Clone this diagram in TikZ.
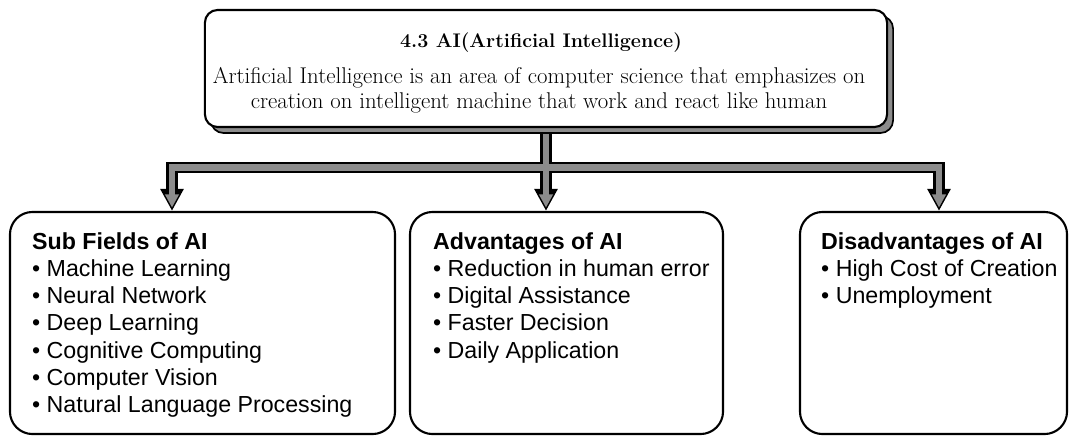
\documentclass[tikz,border=0pt]{standalone}
\usepackage{fontspec}
\setsansfont{Liberation Sans}
\usetikzlibrary{arrows.meta,shadows,calc}
\pgfdeclarelayer{pipes}
\pgfsetlayers{pipes,main}
\begin{document}
\begin{tikzpicture}[x=0.025cm,y=-0.025cm,
  box/.style={draw=black, line width=1.5pt, rounded corners=16pt, fill=white, inner sep=0pt},
  headbox/.style={draw=black, line width=1.5pt, rounded corners=9pt, fill=white, inner sep=0pt,
    copy shadow={shadow xshift=0.15cm, shadow yshift=-0.15cm, fill=black!45, draw=black, line width=1.2pt}},
  listtext/.style={anchor=north west, inner sep=0pt, align=left,
    font=\fontsize{16.5}{19.4}\selectfont\sffamily},
  pipeout/.style={draw=black, line width=8pt, line join=miter,
    -{Triangle[length=15.6pt, width=15.6pt]}},
  pipein/.style={draw=black!45, line width=4.8pt, line join=miter, shorten >=2.4pt,
    -{Triangle[length=9.4pt, width=9.4pt, color=black!45]}},
]
\useasboundingbox (0,0) rectangle (1072,437);

% heading box with its shadow
\node[headbox, minimum width=17.05cm, minimum height=2.925cm] (top) at (546,68.5) {};
\node[font=\fontsize{14}{17}\selectfont\bfseries, inner sep=0pt] (title) at (541,43)
  {4.3 AI(Artificial Intelligence)};
\node[align=center, inner sep=0pt, font=\fontsize{16.2}{17.8}\selectfont] (body) at (539,90)
  {Artificial Intelligence is an area of computer science that emphasizes on\\
   creation on intelligent machine that work and react like human};

% the three topic boxes
\node[box, minimum width=9.625cm, minimum height=5.55cm] (sub) at (202.5,323) {};
\node[box, minimum width=7.825cm, minimum height=5.55cm] (adv) at (566.5,323) {};
\node[box, minimum width=6.675cm, minimum height=5.55cm] (dis) at (933.5,323) {};

\node[listtext] (subtxt) at ($(sub.north west)+(23,21)$)
  {\textbf{Sub Fields of AI}\\
   • Machine Learning\\
   • Neural Network\\
   • Deep Learning\\
   • Cognitive Computing\\
   • Computer Vision\\
   • Natural Language Processing};
\node[listtext] (advtxt) at ($(adv.north west)+(24,21)$)
  {\textbf{Advantages of AI}\\
   • Reduction in human error\\
   • Digital Assistance\\
   • Faster Decision\\
   • Daily Application};
\node[listtext] (distxt) at ($(dis.north west)+(22,21)$)
  {\textbf{Disadvantages of AI}\\
   • High Cost of Creation\\
   • Unemployment};

% hollow grey connectors
\coordinate (bar) at (0,167.5);
\coordinate (hub) at (top.south |- bar);
\coordinate (subin) at (172,0);
\coordinate (disin) at (939,0);
\begin{pgfonlayer}{pipes}
  \draw[pipeout, -] (top.south) -- (hub);
  \draw[pipeout] (hub) -| (subin |- sub.north);
  \draw[pipeout] (hub) -- (hub |- adv.north);
  \draw[pipeout] (hub) -| (disin |- dis.north);
  \draw[pipein, -] (top.south) -- (hub);
  \draw[pipein] (hub) -| (subin |- sub.north);
  \draw[pipein] (hub) -- (hub |- adv.north);
  \draw[pipein] (hub) -| (disin |- dis.north);
\end{pgfonlayer}
\end{tikzpicture}
\end{document}
